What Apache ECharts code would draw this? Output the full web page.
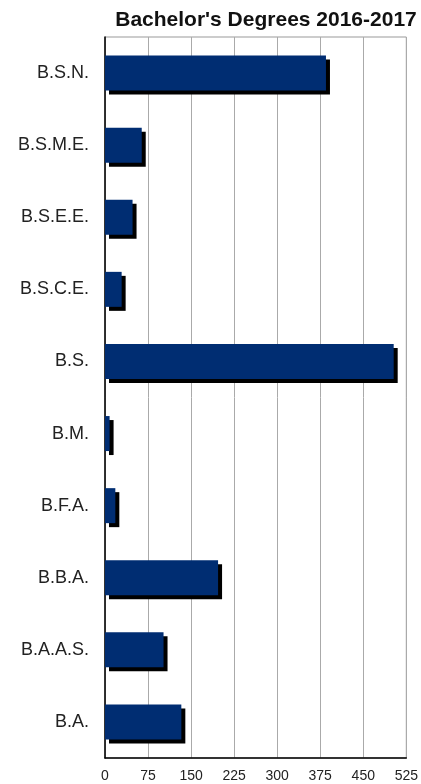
<!DOCTYPE html>
<html><head><meta charset="utf-8">
<script src="https://cdn.jsdelivr.net/npm/echarts@6/dist/echarts.min.js"></script>
<style>html,body{margin:0;padding:0;background:#fff}#c{width:421px;height:784px}</style>
</head><body><div id="c"></div>
<script>
const categories = ['B.S.N.','B.S.M.E.','B.S.E.E.','B.S.C.E.','B.S.','B.M.','B.F.A.','B.B.A.','B.A.A.S.','B.A.'];
const degrees = [385, 64, 48, 29, 503, 8, 18, 197, 102, 133];
const xTicks = {min: 0, max: 525, interval: 75};

const chart = echarts.init(document.getElementById('c'), null, {renderer: 'canvas'});
chart.setOption({
  animation: false,
  backgroundColor: '#ffffff',
  title: {
    text: "Bachelor's Degrees 2016-2017",
    left: 261, top: 5, textAlign: 'center',
    textStyle: {fontFamily: 'Liberation Sans, Arial, sans-serif', fontSize: 21, fontWeight: 'bold', color: '#111'}
  },
  grid: {left: 105, right: 12.5, top: 37, bottom: 26, show: true, borderColor: '#999', borderWidth: 1, containLabel: false},
  xAxis: {
    type: 'value', min: xTicks.min, max: xTicks.max, interval: xTicks.interval,
    axisLine: {show: true, onZero: false, lineStyle: {color: '#000', width: 1.5}},
    axisTick: {show: false},
    axisLabel: {fontFamily: 'Liberation Sans, Arial, sans-serif', fontSize: 14, color: '#222', margin: 11},
    splitLine: {show: true, lineStyle: {color: '#aaa', width: 1}}
  },
  yAxis: {
    type: 'category', data: categories, inverse: true,
    axisLine: {show: true, lineStyle: {color: '#000', width: 1.5}},
    axisTick: {show: false},
    axisLabel: {fontFamily: 'Liberation Sans, Arial, sans-serif', fontSize: 18, color: '#222', margin: 16},
    splitLine: {show: false}
  },
  series: [{
    type: 'bar', data: degrees, barWidth: 35,
    itemStyle: {color: '#002d72', shadowColor: '#000', shadowBlur: 0, shadowOffsetX: 4, shadowOffsetY: 4}
  }]
});
</script></body></html>
